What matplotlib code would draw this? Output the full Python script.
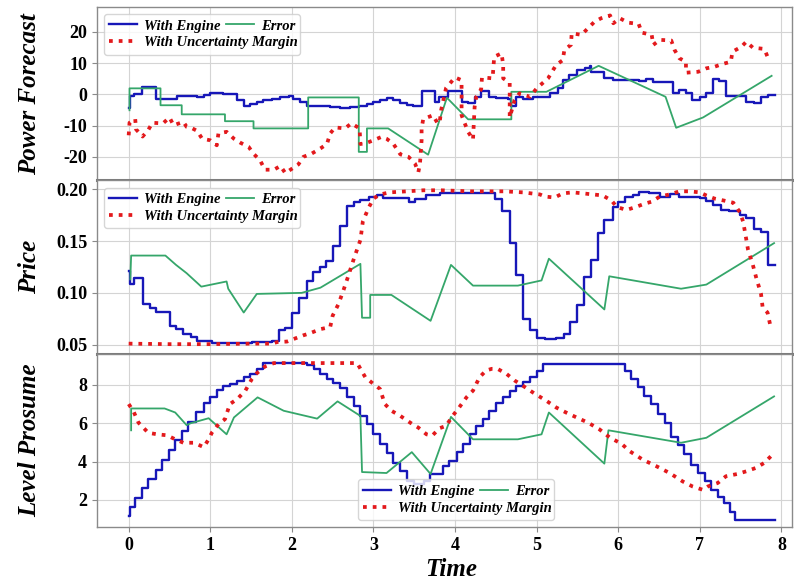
import numpy as np
import matplotlib
matplotlib.use("Agg")
import matplotlib.pyplot as plt

# ---- datos ----
# Power Forecast
pf_eng_t = [0, 0.01, 0.06, 0.16, 0.33, 0.59, 0.84, 0.92, 1.0, 1.16, 1.33, 1.41, 1.49, 1.57, 1.65,
            1.76, 1.86, 1.96, 2.02, 2.1, 2.18, 2.35, 2.47, 2.59, 2.71, 2.82, 2.92, 3.0, 3.08, 3.16,
            3.24, 3.33, 3.41, 3.49, 3.59, 3.73, 3.76, 3.8, 3.91, 4.08, 4.16, 4.24, 4.32, 4.42, 4.5,
            4.65, 4.69, 4.75, 4.83, 4.95, 5.06, 5.16, 5.26, 5.32, 5.4, 5.49, 5.59, 5.65, 5.67, 5.83,
            5.94, 6.26, 6.34, 6.43, 6.67, 6.75, 6.83, 6.91, 7.0, 7.08, 7.16, 7.24, 7.32, 7.57, 7.67,
            7.75, 7.83, 7.92]
pf_eng_v = [-4.5, -0.6, 0.1, 2.2, -1.4, -0.4, -0.8, -0.2, 0.3, 0.0, -1.8, -3.9, -3.2, -2.4, -1.8,
            -1.4, -1.0, -0.6, -1.4, -2.4, -3.7, -3.9, -4.1, -4.5, -4.1, -3.7, -3.1, -2.5, -1.8, -1.2,
            -1.8, -2.9, -3.4, -3.9, 0.9, 1.2, -2.4, -1.0, 1.2, -2.5, -2.9, -0.8, 0.9, -0.8, -1.1,
            -1.4, -3.9, -0.8, -1.5, -1.0, -0.8, 0.5, 1.9, 4.5, 6.1, 7.7, 8.5, 9.1, 7.2, 5.1,
            4.5, 4.3, 4.8, 4.0, 0.3, 1.4, 0.5, -1.8, -0.8, 0.3, 4.9, 4.2, -0.4, -2.4, -2.7,
            -1.0, -0.3, -0.3]
pf_err_t = [0.01, 0.01, 0.39, 0.39, 0.65, 0.65, 1.18, 1.18, 1.53, 1.53, 2.2, 2.2, 2.82, 2.82,
            2.92, 2.92, 3.18, 3.67, 3.9, 4.16, 4.69, 4.69, 5.12, 5.76, 6.58, 6.71, 7.04, 7.88]
pf_err_v = [-5.1, 1.9, 1.9, -3.5, -3.5, -6.4, -6.4, -8.6, -8.6, -10.9, -10.9, -1.0, -1.0, -18.4,
            -18.4, -10.9, -10.9, -19.3, -1.1, -8.0, -8.0, 0.8, 0.8, 9.1, -0.8, -10.7, -7.4, 5.9]
pf_unc_t = [0, 0.01, 0.08, 0.09, 0.17, 0.24, 0.29, 0.42, 0.5, 0.55, 0.67, 0.71, 0.78, 0.84, 0.9,
            1.0, 1.08, 1.1, 1.2, 1.29, 1.37, 1.47, 1.53, 1.61, 1.67, 1.78, 1.86, 1.92, 2.0, 2.08,
            2.14, 2.24, 2.35, 2.43, 2.47, 2.53, 2.65, 2.73, 2.83, 2.84, 2.92, 3.0, 3.1, 3.16, 3.24,
            3.33, 3.43, 3.51, 3.55, 3.57, 3.59, 3.59, 3.61, 3.73, 3.78, 3.81, 3.83, 3.89, 4.0, 4.08,
            4.08, 4.16, 4.22, 4.24, 4.26, 4.32, 4.33, 4.46, 4.48, 4.57, 4.59, 4.59, 4.67, 4.67, 4.67,
            4.73, 4.79, 4.92, 5.0, 5.14, 5.24, 5.32, 5.34, 5.42, 5.43, 5.55, 5.61, 5.71, 5.79, 5.9,
            5.94, 6.02, 6.12, 6.25, 6.29, 6.41, 6.43, 6.51, 6.65, 6.69, 6.75, 6.83, 6.83, 6.98, 7.08,
            7.18, 7.28, 7.38, 7.4, 7.51, 7.57, 7.65, 7.79, 7.83]
pf_unc_v = [-13.1, -9.1, -7.9, -11.2, -13.5, -11.4, -9.1, -9.3, -7.4, -9.9, -8.8, -10.4, -10.9, -11.7, -14.2,
            -14.7, -16.3, -12.5, -12.0, -14.2, -15.5, -16.8, -19.0, -21.1, -24.1, -24.1, -22.9, -25.2, -23.8, -22.4,
            -20.0, -19.0, -17.3, -15.9, -12.5, -10.6, -10.9, -9.3, -10.9, -15.9, -15.5, -14.7, -13.6, -14.2, -15.7,
            -19.2, -20.0, -22.2, -24.9, -22.2, -14.7, -10.9, -7.9, -6.7, -9.0, -9.3, -5.0, 2.0, 5.4, 4.5,
            -6.7, -12.0, -14.5, -4.0, -0.8, 1.6, 5.4, 5.1, 12.0, 13.1, 9.4, 5.1, 3.7, -3.5, -7.4,
            -1.9, 0.3, -0.8, 1.9, 5.1, 9.4, 10.9, 14.2, 15.8, 19.5, 19.0, 20.6, 23.2, 24.3, 25.2,
            22.7, 24.3, 22.9, 22.5, 19.7, 19.0, 15.8, 17.4, 17.2, 14.2, 11.5, 10.4, 6.9, 7.2, 8.3,
            8.8, 9.7, 10.4, 13.6, 15.2, 16.8, 14.9, 14.5, 12.0]

# Price
pr_eng_t = [0, 0.01, 0.06, 0.17, 0.26, 0.33, 0.51, 0.58, 0.67, 0.76, 0.84, 1.02, 1.51, 1.76, 1.84,
            1.92, 2.0, 2.09, 2.18, 2.26, 2.34, 2.42, 2.51, 2.59, 2.67, 2.76, 2.84, 2.94, 3.04, 3.12,
            3.43, 3.51, 3.65, 3.81, 4.49, 4.57, 4.67, 4.75, 4.83, 4.92, 5.0, 5.1, 5.24, 5.33, 5.41,
            5.49, 5.58, 5.67, 5.75, 5.83, 5.93, 6.0, 6.08, 6.18, 6.26, 6.38, 6.51, 6.63, 6.75, 7.0,
            7.08, 7.16, 7.26, 7.36, 7.49, 7.57, 7.67, 7.75, 7.83, 7.92]
pr_eng_v = [0.121, 0.109, 0.114, 0.089, 0.085, 0.082, 0.068, 0.065, 0.060, 0.057, 0.054, 0.052, 0.053, 0.054, 0.064,
            0.066, 0.081, 0.095, 0.111, 0.120, 0.125, 0.131, 0.145, 0.165, 0.184, 0.188, 0.190, 0.193, 0.194, 0.192,
            0.188, 0.191, 0.194, 0.196, 0.191, 0.179, 0.148, 0.117, 0.075, 0.064, 0.056, 0.055, 0.056, 0.060, 0.072,
            0.088, 0.115, 0.132, 0.158, 0.170, 0.183, 0.188, 0.193, 0.194, 0.197, 0.196, 0.193, 0.195, 0.193, 0.192,
            0.189, 0.185, 0.180, 0.179, 0.175, 0.172, 0.162, 0.159, 0.127, 0.127]
pr_err_t = [0.02, 0.03, 0.45, 0.58, 0.71, 0.89, 1.2, 1.22, 1.41, 1.57, 2.12, 2.35, 2.84, 2.86,
            2.96, 2.96, 3.22, 3.7, 3.95, 4.22, 4.77, 5.06, 5.15, 5.83, 5.89, 6.77, 7.08, 7.91]
pr_err_v = [0.113, 0.136, 0.136, 0.127, 0.119, 0.106, 0.111, 0.104, 0.081, 0.099, 0.100, 0.105, 0.128, 0.076,
            0.076, 0.098, 0.098, 0.073, 0.127, 0.107, 0.107, 0.112, 0.133, 0.084, 0.116, 0.104, 0.108, 0.148]
pr_unc_t = [0, 0.5, 1.0, 1.5, 1.75, 1.82, 1.94, 2.04, 2.14, 2.22, 2.35, 2.47, 2.5, 2.57, 2.63,
            2.69, 2.76, 2.84, 2.87, 2.94, 3.0, 3.08, 3.2, 3.41, 3.61, 3.82, 4.2, 4.6, 4.83, 5.04,
            5.1, 5.22, 5.32, 5.44, 5.57, 5.69, 5.81, 5.92, 5.98, 6.1, 6.22, 6.32, 6.41, 6.51, 6.63,
            6.75, 6.87, 7.0, 7.08, 7.18, 7.3, 7.41, 7.49, 7.53, 7.56, 7.59, 7.65, 7.69, 7.75, 7.77,
            7.83, 7.86, 7.91]
pr_unc_v = [0.051, 0.0505, 0.0505, 0.051, 0.051, 0.0525, 0.053, 0.056, 0.059, 0.061, 0.065, 0.067, 0.078, 0.089, 0.102,
            0.116, 0.133, 0.151, 0.169, 0.182, 0.191, 0.195, 0.197, 0.198, 0.199, 0.199, 0.198, 0.198, 0.197, 0.195,
            0.193, 0.192, 0.196, 0.197, 0.196, 0.195, 0.194, 0.189, 0.183, 0.180, 0.183, 0.186, 0.188, 0.193, 0.195,
            0.198, 0.198, 0.197, 0.194, 0.191, 0.189, 0.187, 0.178, 0.169, 0.156, 0.142, 0.127, 0.115, 0.099, 0.086,
            0.081, 0.070, 0.067]

# Level Prosume
lp_eng_t = [0, 0.01, 0.08, 0.16, 0.24, 0.33, 0.41, 0.49, 0.57, 0.65, 0.73, 0.82, 0.92, 1.0, 1.08,
            1.16, 1.24, 1.33, 1.41, 1.49, 1.57, 1.65, 2.18, 2.27, 2.35, 2.43, 2.51, 2.59, 2.67, 2.76,
            2.84, 2.92, 3.0, 3.08, 3.16, 3.24, 3.33, 3.41, 3.5, 3.62, 3.69, 3.85, 3.93, 4.02, 4.1,
            4.18, 4.26, 4.34, 4.42, 4.5, 4.59, 4.67, 4.75, 4.83, 4.92, 5.0, 5.08, 6.08, 6.16, 6.24,
            6.32, 6.4, 6.49, 6.57, 6.65, 6.73, 6.81, 6.89, 6.98, 7.06, 7.14, 7.22, 7.3, 7.37, 7.43,
            7.92]
lp_eng_v = [1.15, 1.65, 2.12, 2.61, 3.10, 3.58, 4.10, 4.6, 5.1, 5.6, 6.07, 6.56, 7.03, 7.38, 7.74,
            7.96, 8.05, 8.23, 8.4, 8.58, 8.84, 9.14, 9.02, 8.84, 8.58, 8.31, 8.09, 7.82, 7.35, 6.91,
            6.38, 5.95, 5.42, 4.89, 4.42, 3.93, 3.49, 3.0, 2.85, 3.0, 3.37, 3.75, 4.05, 4.49, 4.89,
            5.42, 5.86, 6.21, 6.65, 7.03, 7.38, 7.66, 7.96, 8.14, 8.40, 8.75, 9.10, 8.75, 8.31, 7.88,
            7.44, 7.0, 6.47, 6.03, 5.28, 4.86, 4.37, 3.84, 3.40, 3.0, 2.52, 2.17, 1.82, 1.38, 0.95,
            0.95]
lp_err_t = [0.03, 0.03, 0.44, 0.57, 0.71, 0.76, 0.98, 1.2, 1.29, 1.58, 1.9, 2.31, 2.56, 2.84,
            2.86, 3.16, 3.47, 3.7, 3.95, 4.22, 4.77, 5.06, 5.15, 5.83, 5.88, 6.77, 7.08, 7.91]
lp_err_v = [5.63, 6.77, 6.77, 6.56, 5.9, 6.0, 6.26, 5.42, 6.3, 7.35, 6.65, 6.24, 7.14, 6.38,
            3.45, 3.4, 4.49, 3.35, 6.33, 5.16, 5.16, 5.42, 6.56, 3.89, 5.63, 4.98, 5.24, 7.4]
lp_unc_t = [0, 0.06, 0.12, 0.24, 0.35, 0.47, 0.57, 0.67, 0.8, 0.92, 0.98, 1.02, 1.1, 1.18, 1.24,
            1.33, 1.43, 1.51, 1.57, 1.67, 1.78, 2.8, 2.9, 3.0, 3.08, 3.14, 3.22, 3.33, 3.45, 3.55,
            3.65, 3.72, 3.81, 3.89, 3.97, 4.05, 4.14, 4.22, 4.3, 4.38, 4.45, 4.52, 4.63, 4.73, 4.83,
            4.97, 5.12, 5.24, 5.36, 5.49, 5.63, 5.77, 5.9, 6.04, 6.14, 6.3, 6.47, 6.63, 6.79, 6.91,
            7.04, 7.1, 7.22, 7.32, 7.46, 7.57, 7.69, 7.79, 7.9]
lp_unc_v = [7.0, 6.61, 6.03, 5.5, 5.42, 5.37, 5.16, 4.98, 4.98, 4.75, 5.16, 5.51, 5.95, 6.21, 7.0,
            7.26, 7.7, 8.31, 8.61, 8.96, 9.14, 9.14, 8.40, 8.05, 7.79, 7.0, 6.65, 6.38, 6.03, 5.77,
            5.42, 5.35, 5.74, 5.86, 6.38, 6.82, 7.35, 7.7, 8.4, 8.75, 8.84, 8.84, 8.58, 8.23, 7.96,
            7.56, 7.17, 6.82, 6.56, 6.3, 6.03, 5.68, 5.24, 4.93, 4.54, 4.1, 3.75, 3.40, 2.96, 2.7,
            2.52, 2.7, 2.88, 3.23, 3.35, 3.49, 3.67, 3.93, 4.4]

x_ticks = [0, 1, 2, 3, 4, 5, 6, 7, 8]
y_labels = ['Power Forecast', 'Price', 'Level Prosume']

# ---- estilo ----
plt.rcParams['font.family'] = 'Liberation Serif'
plt.rcParams['axes.unicode_minus'] = False

c_eng = '#1717b8'
c_err = '#35a66a'
c_unc = '#e3191c'
leg_font = {'family': 'Liberation Serif', 'weight': 'bold', 'style': 'italic', 'size': 10.5}

fig = plt.figure(figsize=(7.94, 5.83), dpi=100)
gs = fig.add_gridspec(3, 1, left=0.122, right=0.9975, top=0.988, bottom=0.096, hspace=0)
axes = [fig.add_subplot(gs[i]) for i in range(3)]

series = [
    (pf_eng_t, pf_eng_v, pf_err_t, pf_err_v, pf_unc_t, pf_unc_v),
    (pr_eng_t, pr_eng_v, pr_err_t, pr_err_v, pr_unc_t, pr_unc_v),
    (lp_eng_t, lp_eng_v, lp_err_t, lp_err_v, lp_unc_t, lp_unc_v),
]
ylims = [(-27.5, 27.9), (0.0413, 0.2086), (0.58, 9.63)]
yticks = [[-20, -10, 0, 10, 20], [0.05, 0.10, 0.15, 0.20], [2, 4, 6, 8]]

for i, ax in enumerate(axes):
    et, ev, rt, rv, ut, uv = series[i]
    l1, = ax.plot(et, ev, color=c_eng, lw=1.7, drawstyle='steps-post', label='With Engine')
    l2, = ax.plot(rt, rv, color=c_err, lw=1.3, label='Error')
    l3, = ax.plot(ut, uv, color=c_unc, lw=2.7, linestyle=(0, (1, 1.6)),
                  label='With Uncertainty Margin')

    ax.set_xlim(-0.39, 8.13)
    ax.set_ylim(*ylims[i])
    ax.set_yticks(yticks[i])
    if i == 1:
        ax.set_yticklabels(['%.2f' % v for v in yticks[i]])
    ax.set_xticks(x_ticks)
    ax.grid(True, color='#d4d4d4', lw=0.8)
    ax.set_axisbelow(True)
    for s in ax.spines.values():
        s.set_color('#8a8a8a')
        s.set_linewidth(1.0)
    if i < 2:
        ax.spines['bottom'].set_linewidth(2.2)
        ax.spines['bottom'].set_color('#7a7a7a')
        ax.tick_params(axis='x', length=0, labelbottom=False)
    ax.tick_params(axis='both', colors='#8a8a8a', labelcolor='black', labelsize=13, length=3.5)
    for lab in ax.get_yticklabels() + ax.get_xticklabels():
        lab.set_fontweight('bold')

    ax.set_ylabel(y_labels[i], fontsize=18, fontweight='bold', fontstyle='italic')
    ax.yaxis.set_label_coords(-0.08, 0.5)

    if i < 2:
        loc = dict(loc='upper left')
    else:
        loc = dict(loc='lower center', bbox_to_anchor=(0.517, 0.0))
    # segunda columna (Error) metida encima del hueco de la primera, como en el original
    ax.legend(handles=[l1, l3, l2], ncol=2, prop=leg_font, columnspacing=-4.95,
              handlelength=1.9, handletextpad=0.5, labelspacing=0.25, borderpad=0.35,
              framealpha=0.8, **loc)

fig.text(0.568, 0.003, 'Time', ha='center', va='bottom', fontsize=18,
         fontweight='bold', fontstyle='italic')

fig.savefig('out.png', dpi=100)
